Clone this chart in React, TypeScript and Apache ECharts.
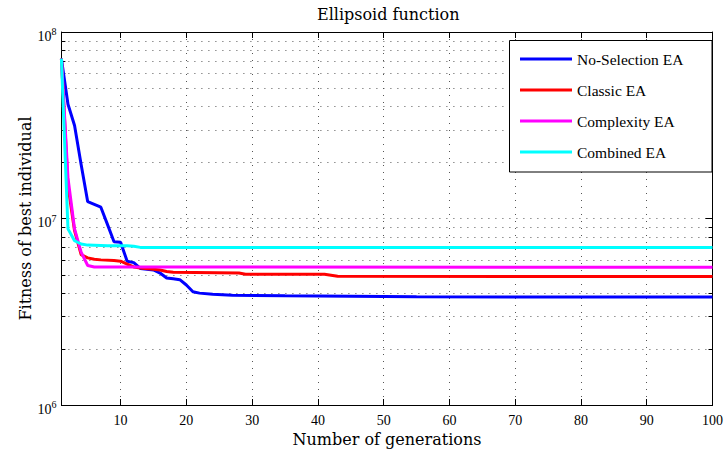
import React, { useEffect, useRef } from "react";
import * as echarts from "echarts";

// ---- Data ----
const seriesNames = ["No-Selection EA", "Classic EA", "Complexity EA", "Combined EA"];
const seriesColors = ["#0000ff", "#ff0000", "#ff00ff", "#00ffff"];

const noSelGen = [1, 2, 3, 4, 5, 6, 7, 8, 9, 10, 11, 12, 13, 14, 15, 16, 17, 18, 19, 20, 21, 22, 24, 27, 35, 45, 55, 100];
const noSelFit = [7.2e7, 4.1e7, 3.15e7, 1.95e7, 1.23e7, 1.19e7, 1.15e7, 9.3e6, 7.5e6, 7.45e6, 5.9e6, 5.8e6, 5.4e6, 5.35e6, 5.3e6, 5.1e6, 4.8e6, 4.75e6, 4.7e6, 4.4e6, 4.05e6, 3.98e6, 3.92e6, 3.88e6, 3.85e6, 3.83e6, 3.8e6, 3.79e6];

const classicGen = [1, 2, 3, 4, 5, 6, 7, 9, 10, 11, 12, 13, 15, 16, 17, 18, 28, 29, 41, 43, 100];
const classicFit = [7.2e7, 1.5e7, 8.6e6, 6.4e6, 6.15e6, 6.05e6, 6.0e6, 5.95e6, 5.9e6, 5.7e6, 5.5e6, 5.42e6, 5.35e6, 5.3e6, 5.2e6, 5.15e6, 5.1e6, 5.03e6, 5.02e6, 4.9e6, 4.88e6];

const complexGen = [1, 2, 3, 4, 5, 6, 100];
const complexFit = [7.2e7, 1.65e7, 8.8e6, 6.6e6, 5.6e6, 5.5e6, 5.47e6];

const combinedGen = [1, 2, 3, 4, 5, 8, 11, 12, 13, 100];
const combinedFit = [7.2e7, 8.8e6, 7.6e6, 7.3e6, 7.2e6, 7.15e6, 7.15e6, 7.1e6, 7.0e6, 6.98e6];

const xTickValues = [10, 20, 30, 40, 50, 60, 70, 80, 90, 100];
const minorYValues = [2e6, 3e6, 4e6, 5e6, 6e6, 7e6, 8e6, 9e6, 2e7, 3e7, 4e7, 5e7, 6e7, 7e7, 8e7, 9e7];

const X_MIN = 1;
const X_MAX = 100;
const Y_MIN = 1e6;
const Y_MAX = 1e8;

const serif = "Liberation Serif";
const serif2 = "DejaVu Serif";

export default function App() {
  const ref = useRef<HTMLDivElement>(null);

  useEffect(() => {
    if (!ref.current) return;
    const chart = echarts.init(ref.current, undefined, { renderer: "svg" });

    const gens = [noSelGen, classicGen, complexGen, combinedGen];
    const fits = [noSelFit, classicFit, complexFit, combinedFit];

    const lineSeries = seriesNames.map((name, k) => ({
      name,
      type: "line",
      xAxisIndex: 0,
      yAxisIndex: 0,
      showSymbol: false,
      symbol: "none",
      z: 3 + k,
      lineStyle: { width: 3, color: seriesColors[k] },
      itemStyle: { color: seriesColors[k] },
      data: gens[k].map((g, i) => [g, fits[k][i]]),
    }));

    const minorSeries = {
      name: "minor",
      type: "custom",
      xAxisIndex: 0,
      yAxisIndex: 0,
      z: 1,
      silent: true,
      clip: false,
      encode: { x: 0, y: 1 },
      data: minorYValues.map((v) => [X_MIN, v]),
      renderItem: (params: any, api: any) => {
        const v = api.value(1);
        const pt = api.coord([X_MIN, v]);
        const cs = params.coordSys;
        const x0 = cs.x;
        const x1 = cs.x + cs.width;
        const y = Math.round(pt[1]) + 0.5;
        return {
          type: "group",
          children: [
            {
              type: "line",
              shape: { x1: x0, y1: y, x2: x1, y2: y },
              style: { stroke: "#555", lineWidth: 1, lineDash: [1, 6] },
            },
            {
              type: "line",
              shape: { x1: x0, y1: y, x2: x0 + 4, y2: y },
              style: { stroke: "#000", lineWidth: 1 },
            },
            {
              type: "line",
              shape: { x1: x1 - 4, y1: y, x2: x1, y2: y },
              style: { stroke: "#000", lineWidth: 1 },
            },
          ],
        };
      },
    };

    const axisLine = { show: true, onZero: false, lineStyle: { color: "#000", width: 1 } };

    chart.setOption({
      animation: false,
      backgroundColor: "#fff",
      title: {
        text: "Ellipsoid function",
        left: 312,
        top: 1,
        textStyle: { fontFamily: serif2, fontSize: 16, fontWeight: "normal", color: "#000" },
      },
      grid: { left: 61.4, right: 9.4, top: 32, bottom: 44, containLabel: false },
      legend: {
        data: seriesNames,
        orient: "vertical",
        left: 515,
        top: 46,
        padding: 5,
        itemGap: 15,
        itemWidth: 52,
        itemHeight: 3,
        icon: "rect",
        z: 10,
        textStyle: { fontFamily: serif, fontSize: 15.5, lineHeight: 14, color: "#000" },
      },
      graphic: [
        {
          type: "rect",
          z: 8,
          shape: { x: 509.5, y: 40.5, width: 202.5, height: 131.5 },
          style: { fill: "#fff", stroke: "#000", lineWidth: 1 },
          silent: true,
        },
      ],
      xAxis: [
        {
          type: "value",
          min: X_MIN,
          max: X_MAX,
          position: "bottom",
          name: "Number of generations",
          nameLocation: "middle",
          nameGap: 26,
          nameMoveOverlap: false,
          nameTextStyle: { fontFamily: serif2, fontSize: 16, color: "#000" },
          axisLine,
          axisTick: { show: true, inside: true, length: 6, customValues: xTickValues, lineStyle: { color: "#000" } },
          axisLabel: {
            show: true,
            customValues: xTickValues,
            margin: 8,
            fontFamily: serif,
            fontSize: 14,
            color: "#000",
          },
          splitLine: { show: true, lineStyle: { color: "#555", width: 1, type: [1, 6] } },
        },
        {
          type: "value",
          min: X_MIN,
          max: X_MAX,
          position: "top",
          axisLine,
          axisTick: { show: true, inside: true, length: 6, customValues: xTickValues, lineStyle: { color: "#000" } },
          axisLabel: { show: false },
          splitLine: { show: false },
        },
      ],
      yAxis: [
        {
          type: "log",
          logBase: 10,
          min: Y_MIN,
          max: Y_MAX,
          position: "left",
          name: "Fitness of best individual",
          nameLocation: "middle",
          nameRotate: 90,
          nameGap: 28,
          nameMoveOverlap: false,
          nameTextStyle: { fontFamily: serif2, fontSize: 16, color: "#000" },
          axisLine,
          axisTick: { show: true, inside: true, length: 7, lineStyle: { color: "#000" } },
          axisLabel: {
            show: true,
            margin: 5,
            padding: [8, 0, 0, 0],
            formatter: (v: number) => `{b|10}{s|${Math.round(Math.log10(v))}}`,
            rich: {
              b: { fontFamily: serif, fontSize: 14, color: "#000", lineHeight: 14 },
              s: { fontFamily: serif, fontSize: 10, color: "#000", lineHeight: 10, padding: [0, 0, 9, 0] },
            },
          },
          splitLine: { show: true, lineStyle: { color: "#555", width: 1, type: [1, 6] } },
          minorTick: { show: false },
          minorSplitLine: { show: false },
        },
        {
          type: "log",
          logBase: 10,
          min: Y_MIN,
          max: Y_MAX,
          position: "right",
          axisLine,
          axisTick: { show: true, inside: true, length: 7, lineStyle: { color: "#000" } },
          axisLabel: { show: false },
          splitLine: { show: false },
        },
      ],
      series: [minorSeries, ...lineSeries],
    });

    return () => chart.dispose();
  }, []);

  return <div ref={ref} style={{ width: 726, height: 452, position: "absolute", left: 0, top: 0 }} />;
}
